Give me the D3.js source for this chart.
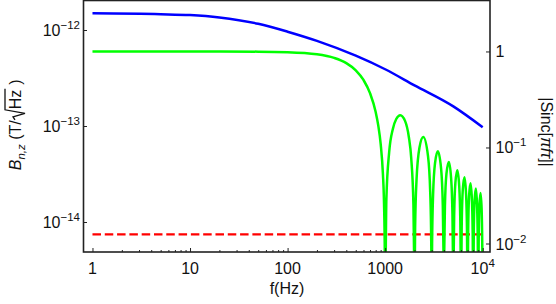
<!DOCTYPE html>
<html>
<head>
<meta charset="utf-8">
<script src="https://cdn.jsdelivr.net/npm/d3@7"></script>
<style>
  body { margin: 0; background: #fff; }
  text { font-family: "Liberation Sans", Arial, sans-serif; fill: #111; }
</style>
</head>
<body>
<svg id="chart" width="556" height="304"></svg>
<script>
// ---- data ----
// blue: B_n,z noise curve (left axis, T/sqrt(Hz))
var blueFreq = [1, 5, 10, 20, 50, 100, 200, 500, 1000, 2000, 5000, 10000];
var blueB = [1.49e-12, 1.46e-12, 1.43e-12, 1.35e-12, 1.16e-12, 9.6e-13, 7.7e-13, 5.4e-13, 3.9e-13, 2.65e-13, 1.6e-13, 9.7e-14];

// red dashed: flat floor (left axis)
var redFreq = [1, 10000];
var redB = [7.44e-15, 7.44e-15];

// green: |Sinc| (right axis), zeros sit below the frame
var greenFreq = [1, 10, 50, 100, 200, 300, 400, 500, 600, 700, 800, 850, 900, 950, 970, 990, 1000,
  1030, 1100, 1200, 1300, 1430, 1600, 1750, 1850, 1950, 1990, 2000,
  2030, 2100, 2250, 2460, 2750, 2900, 2970, 3000,
  3030, 3100, 3250, 3470, 3750, 3900, 3970, 4000,
  4030, 4100, 4250, 4500, 4750, 4900, 4970, 5000,
  5030, 5100, 5250, 5500, 5750, 5900, 5970, 6000,
  6100, 6250, 6500, 6750, 6900, 7000,
  7100, 7250, 7500, 7750, 7900, 8000,
  8100, 8250, 8500, 8750, 8900, 9000,
  9100, 9250, 9500, 9750, 9900, 10000];
var greenSinc = [1, 0.9998, 0.996, 0.984, 0.936, 0.858, 0.757, 0.637, 0.505, 0.368, 0.234, 0.170, 0.109, 0.052, 0.031, 0.010, 0.003,
  0.0291, 0.0894, 0.1559, 0.1981, 0.2172, 0.1892, 0.1286, 0.0781, 0.0255, 0.0050, 0.003,
  0.0148, 0.0468, 0.1000, 0.1284, 0.0818, 0.0339, 0.0101, 0.003,
  0.0099, 0.0317, 0.0693, 0.0913, 0.0600, 0.0252, 0.0075, 0.003,
  0.0074, 0.0240, 0.0530, 0.0707, 0.0474, 0.0201, 0.0060, 0.003,
  0.0060, 0.0193, 0.0429, 0.0579, 0.0391, 0.0167, 0.0050, 0.003,
  0.0161, 0.0360, 0.0490, 0.0333, 0.0143, 0.003,
  0.0139, 0.0310, 0.0424, 0.0290, 0.0125, 0.003,
  0.0121, 0.0273, 0.0375, 0.0257, 0.0111, 0.003,
  0.0108, 0.0243, 0.0335, 0.0231, 0.0099, 0.003];

// ticks
var xTicks = [1, 10, 100, 1000, 10000];
var xTickLabels = ["1", "10", "100", "1000", "10^4"];
var xMinorTicks = [2,3,4,5,6,7,8,9, 20,30,40,50,60,70,80,90, 200,300,400,500,600,700,800,900, 2000,3000,4000,5000,6000,7000,8000,9000];
var leftTicks = [1e-12, 1e-13, 1e-14];
var leftTickLabels = ["10^\u221212", "10^\u221213", "10^\u221214"];
var rightTicks = [1, 0.1, 0.01];
var rightTickLabels = ["1", "10^\u22121", "10^\u22122"];

// ---- layout ----
var plot = { left: 83.5, right: 490, top: 0.5, bottom: 252 };
var svg = d3.select("#chart");

var xScale = d3.scaleLog()
  .domain([Math.pow(10, -0.092), Math.pow(10, 4.075)])
  .range([plot.left, plot.right]);
var yLeft = d3.scaleLog()
  .domain([Math.pow(10, -14.3125), Math.pow(10, -11.6875)])
  .range([plot.bottom, 0]);
var yRight = d3.scaleLog()
  .domain([Math.pow(10, -2.0885), Math.pow(10, 0.536)])
  .range([plot.bottom, 0]);

svg.append("clipPath").attr("id", "plotClip").append("rect")
  .attr("x", plot.left).attr("y", plot.top)
  .attr("width", plot.right - plot.left).attr("height", plot.bottom - plot.top);

var lines = svg.append("g").attr("clip-path", "url(#plotClip)");

// red dashed floor
var redLine = d3.line().x(function(d, i) { return xScale(redFreq[i]); }).y(function(d) { return yLeft(d); });
lines.append("path").attr("d", redLine(redB))
  .attr("fill", "none").attr("stroke", "#ff0000").attr("stroke-width", 2.2).attr("stroke-dasharray", "8.5,3.8");

// green sinc
var greenLine = d3.line().curve(d3.curveMonotoneX)
  .x(function(d, i) { return xScale(greenFreq[i]); }).y(function(d) { return yRight(d); });
lines.append("path").attr("d", greenLine(greenSinc))
  .attr("fill", "none").attr("stroke", "#00ff00").attr("stroke-width", 2.5).attr("stroke-linejoin", "round");

// blue noise
var blueLine = d3.line().curve(d3.curveMonotoneX)
  .x(function(d, i) { return xScale(blueFreq[i]); }).y(function(d) { return yLeft(d); });
lines.append("path").attr("d", blueLine(blueB))
  .attr("fill", "none").attr("stroke", "#0000ff").attr("stroke-width", 2.5);

// ---- axes ----
function stripDomain(g) { g.select(".domain").remove(); g.selectAll(".tick line").attr("stroke", "#222"); }

svg.append("g").attr("transform", "translate(0," + plot.bottom + ")")
  .call(d3.axisBottom(xScale).tickValues(xTicks).tickSize(-4).tickFormat("")).call(stripDomain);
svg.append("g").attr("transform", "translate(0," + plot.bottom + ")")
  .call(d3.axisBottom(xScale).tickValues(xMinorTicks).tickSize(-2).tickFormat("")).call(stripDomain);
svg.append("g").attr("transform", "translate(" + plot.left + ",0)")
  .call(d3.axisLeft(yLeft).tickValues(leftTicks).tickSize(-3.5).tickFormat("")).call(stripDomain);
svg.append("g").attr("transform", "translate(" + plot.right + ",0)")
  .call(d3.axisRight(yRight).tickValues(rightTicks).tickSize(-4).tickFormat("")).call(stripDomain);

// frame
svg.append("rect").attr("x", plot.left).attr("y", plot.top)
  .attr("width", plot.right - plot.left).attr("height", plot.bottom - plot.top)
  .attr("fill", "none").attr("stroke", "#222").attr("stroke-width", 1.6);

// labels with optional superscript "base^exp"
function powText(sel, label) {
  var parts = label.split("^");
  sel.append("tspan").text(parts[0]);
  if (parts.length > 1) {
    sel.append("tspan").attr("font-size", "11.5px").attr("dy", "-7").text(parts[1]);
  }
}

xTicks.forEach(function(v, i) {
  var t = svg.append("text").attr("x", xScale(v)).attr("y", 274)
    .attr("text-anchor", "middle").attr("font-size", "16px");
  powText(t, xTickLabels[i]);
});
leftTicks.forEach(function(v, i) {
  var t = svg.append("text").attr("x", 80).attr("y", yLeft(v) + 6)
    .attr("text-anchor", "end").attr("font-size", "16px");
  powText(t, leftTickLabels[i]);
});
rightTicks.forEach(function(v, i) {
  var t = svg.append("text").attr("x", 495.5).attr("y", yRight(v) + 6)
    .attr("text-anchor", "start").attr("font-size", "16px");
  powText(t, rightTickLabels[i]);
});

// x title
svg.append("text").attr("x", 287).attr("y", 294)
  .attr("text-anchor", "middle").attr("font-size", "16px").text("f(Hz)");

// right title
var rt = svg.append("text").attr("transform", "translate(541,132) rotate(90)")
  .attr("text-anchor", "middle").attr("font-size", "16px");
rt.append("tspan").text("|Sinc[");
rt.append("tspan").attr("font-style", "italic").text("\u03c0f\u03c4");
rt.append("tspan").text("]|");

// left title: B_{n,z} (T/sqrt(Hz))
var lt = svg.append("g").attr("transform", "translate(21,125) rotate(-90)");
var part1 = lt.append("text").attr("x", 0).attr("y", 0).attr("font-size", "16px");
part1.append("tspan").attr("font-style", "italic").text("B");
part1.append("tspan").attr("font-style", "italic").attr("font-size", "11.5px").attr("dy", "4").text("n,z");
part1.append("tspan").attr("dy", "-4").text(" (T/");
var w1 = part1.node().getComputedTextLength();
var hz = lt.append("text").attr("x", w1 + 11).attr("y", 0).attr("font-size", "16px").text("Hz");
var w2 = hz.node().getComputedTextLength();
lt.append("path")
  .attr("d", "M" + (w1 + 0.5) + ",-6 L" + (w1 + 3.5) + ",-8 L" + (w1 + 7) + ",4 L" + (w1 + 10.5) + ",-16 L" + (w1 + 11 + w2 + 1) + ",-16")
  .attr("fill", "none").attr("stroke", "#111").attr("stroke-width", 1.3);
lt.append("text").attr("x", w1 + 11 + w2 + 5).attr("y", 0).attr("font-size", "16px").text(")");
var total = w1 + 11 + w2 + 10;
lt.selectAll("text").attr("transform", "translate(" + (-total / 2) + ",0)");
lt.select("path").attr("transform", "translate(" + (-total / 2) + ",0)");
</script>
</body>
</html>
